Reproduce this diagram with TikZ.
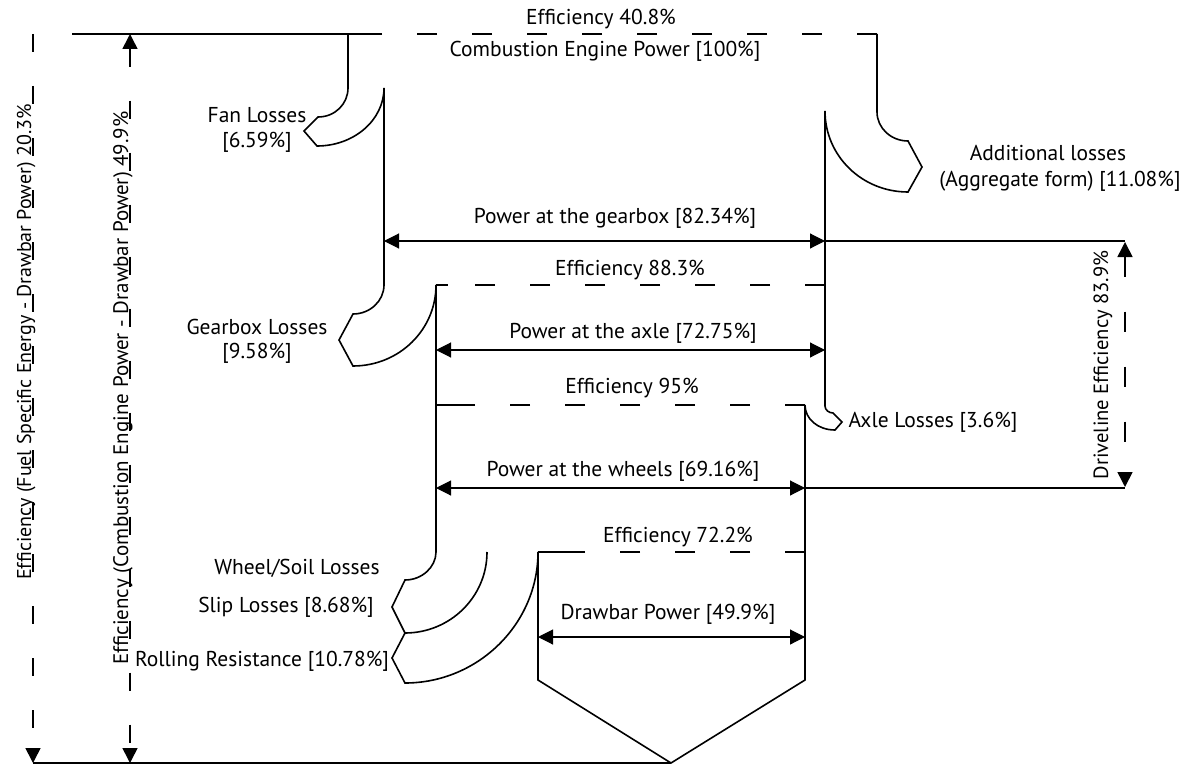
\documentclass[tikz,border=0pt]{standalone}
\usepackage{fontspec}
\setmainfont{PT Sans}
\usetikzlibrary{arrows.meta}
\begin{document}
\begin{tikzpicture}[x=1pt,y=-1pt,
  shape line/.style={line width=1.6pt, line join=miter},
  thin line/.style={line width=1.1pt},
  dsh/.style={dash pattern=on 20pt off 35pt},
  lbl/.style={font=\fontsize{21.5}{24}\selectfont, inner sep=0pt, text=black},
  vlbl/.style={lbl, rotate=90, anchor=base},
  dbl/.style={{Triangle[length=15pt,width=15pt]}-{Triangle[length=15pt,width=15pt]}},
  onetip/.style={-{Triangle[length=15pt,width=15pt]}}]
\useasboundingbox (0,0) rectangle (1185,765);

% key points
\coordinate (topL) at (72,34);
\coordinate (topS) at (375,34);
\coordinate (topR) at (877,34);
\coordinate (gbL) at (384,241);
\coordinate (gbR) at (825,241);
\coordinate (gbF) at (1125,241);
\coordinate (e88L) at (436,285);
\coordinate (e88R) at (825,285);
\coordinate (axL) at (436,350);
\coordinate (axR) at (825,350);
\coordinate (e95L) at (436,405);
\coordinate (e95R) at (805,405);
\coordinate (whL) at (436,488);
\coordinate (whR) at (805,488);
\coordinate (whF) at (1125,488);
\coordinate (e72L) at (538,552);
\coordinate (e72R) at (805,552);
\coordinate (dbL) at (538,637);
\coordinate (dbR) at (805,637);
\coordinate (tip) at (671,763);
\coordinate (botL) at (33,763);
\coordinate (fsTop) at (33,34);
\coordinate (ceTop) at (130,34);
\coordinate (ceBot) at (130,763);
\coordinate (dlTop) at (1125,242);
\coordinate (dlBot) at (1125,487);

% main outline
\draw[shape line] (topL) -- (topS);
\draw[shape line, dsh] (topR) -- (topS);
\draw[shape line] (348,34) -- (348,88) .. controls (348,104) and (335,117) .. (318,117)
  -- (304,131) -- (317,146) .. controls (354,146) and (384,120) .. (384,88)
  -- (384,285) .. controls (384,301) and (370,314) .. (353,314)
  -- (339,340) -- (353,366) .. controls (399,366) and (436,330) .. (436,285)
  -- (436,552) .. controls (436,567) and (422,580) .. (405,580)
  -- (392,607) -- (405,633) -- (392,658) -- (405,683)
  .. controls (478,683) and (538,624) .. (538,552)
  -- (538,680) -- (tip) -- (805,680)
  -- (805,405) .. controls (805,419) and (818,430) .. (835,430)
  -- (842,422) -- (833,413) .. controls (829,413) and (825,410) .. (825,406)
  -- (825,111) .. controls (825,156) and (862,192) .. (908,192)
  -- (922,167) -- (908,141) .. controls (891,141) and (877,128) .. (877,112)
  -- (topR);
\draw[shape line] (405,633) .. controls (450,633) and (487,597) .. (487,552);

% efficiency dashed lines
\draw[shape line, dsh] (e88R) -- (e88L);
\draw[shape line, dsh] (e95R) -- (e95L);
\draw[shape line, dsh] (e72R) -- (e72L);
\draw[shape line] (e88L) -- ++(12,0);
\draw[shape line] (e95L) -- ++(27,0);
\draw[shape line] (e72L) -- ++(32,0);

% solid guide lines
\draw[thin line] (gbR) -- (gbF);
\draw[thin line] (whR) -- (whF);
\draw[thin line] (botL) -- (tip);

% power arrows
\draw[thin line, dbl] (gbL) -- (gbR);
\draw[thin line, dbl] (axL) -- (axR);
\draw[thin line, dbl] (whL) -- (whR);
\draw[thin line, dbl] (dbL) -- (dbR);

% efficiency dimension lines
\draw[shape line, dsh, dbl] (dlTop) -- (dlBot);
\draw[shape line, dash pattern=on 18pt off 34pt, onetip] (fsTop) -- (botL);
\draw[shape line, dash pattern=on 18pt off 34pt, dbl] (ceTop) -- (ceBot);

% labels
\node[lbl] (t1) at (601,19) {Efficiency 40.8\%};
\node[lbl] (t2) at (605,51) {Combustion Engine Power [100\%]};
\node[lbl] (t3) at (257,115) {Fan Losses};
\node[lbl] (t4) at (257,142) {[6.59\%]};
\node[lbl] (t5) at (1048,153) {Additional losses};
\node[lbl] (t6) at (1060,181) {(Aggregate form) [11.08\%]};
\node[lbl] (t7) at (615,218) {Power at the gearbox [82.34\%]};
\node[lbl] (t8) at (630,270) {Efficiency 88.3\%};
\node[lbl] (t9) at (257,327) {Gearbox Losses};
\node[lbl] (t10) at (257,353) {[9.58\%]};
\node[lbl] (t11) at (633,333) {Power at the axle [72.75\%]};
\node[lbl] (t12) at (632,388) {Efficiency 95\%};
\node[lbl] (t13) at (933,422) {Axle Losses [3.6\%]};
\node[lbl] (t14) at (623,471) {Power at the wheels [69.16\%]};
\node[lbl] (t15) at (678,537) {Efficiency 72.2\%};
\node[lbl] (t16) at (297,568) {Wheel/Soil Losses};
\node[lbl] (t17) at (286,607) {Slip Losses [8.68\%]};
\node[lbl] (t18) at (668,614) {Drawbar Power [49.9\%]};
\node[lbl] (t19) at (262,661) {Rolling Resistance [10.78\%]};
\node[vlbl, font=\fontsize{20}{24}\selectfont] (t20) at (31,342) {Efficiency (Fuel Specific Energy - Drawbar Power) 20.3\%};
\node[vlbl, font=\fontsize{21}{24}\selectfont] (t21) at (128,388) {Efficiency (Combustion Engine Power - Drawbar Power) 49.9\%};
\node[vlbl, font=\fontsize{20.6}{24}\selectfont] (t22) at (1108,365) {Driveline Efficiency 83.9\%};
\end{tikzpicture}
\end{document}
